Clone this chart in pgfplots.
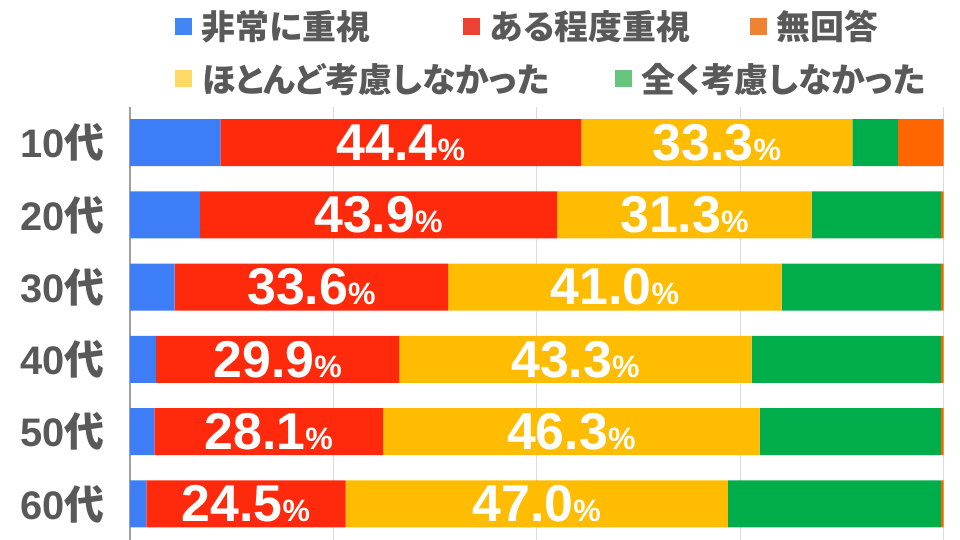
\documentclass[border=0pt]{standalone}
\usepackage{pgfplots}
\usepackage{pgfplotstable}
\pgfplotsset{compat=1.18}
\usepackage{fontspec}
\setmainfont{Liberation Sans}
\newfontfamily\jp{Noto Sans CJK JP}
\newfontfamily\jpp{Noto Sans CJK JP}[RawFeature=+palt]
\definecolor{cBlue}{HTML}{3D7EF7}
\definecolor{cRed}{HTML}{FF290B}
\definecolor{cYellow}{HTML}{FFBC00}
\definecolor{cGreen}{HTML}{00AD4B}
\definecolor{cOrange}{HTML}{FF6600}
\definecolor{lBlue}{HTML}{4285F4}
\definecolor{lRed}{HTML}{EA4335}
\definecolor{lOrange}{HTML}{EE8431}
\definecolor{lYellow}{HTML}{FFD966}
\definecolor{lGreen}{HTML}{66C57A}
\definecolor{txt}{HTML}{595959}
\definecolor{gridc}{HTML}{DADADA}
\definecolor{axisg}{HTML}{A0A0A0}
\pgfplotstableread{
idx blue red yellow green orange
0 11.1 44.4 33.3 5.6 5.6
1 8.6 43.9 31.3 15.9 0.3
2 5.5 33.6 41.0 19.6 0.3
3 3.2 29.9 43.3 23.3 0.3
4 3.0 28.1 46.3 22.3 0.3
5 2.0 24.5 47.0 26.2 0.3
}\data
\newcommand{\key}[1]{{\color{#1}\rule[5bp]{17bp}{17bp}}\hspace{10bp}}
\pgfplotsset{
  common/.style={at={(130bp,0bp)}, anchor=south west, scale only axis,
    width=813.5bp, height=433.5bp},
  legrow/.style={common, hide axis, xmin=0, xmax=1, ymin=0, ymax=1,
    legend columns=-1,
    legend image code/.code={},
    legend style={at={(0.0553,#1)}, anchor=west, draw=none, fill=none,
      inner sep=0pt, outer sep=0pt,
      font=\fontsize{34}{34}\selectfont\jpp\bfseries, text=txt,
      nodes={inner sep=0pt},
      /tikz/every odd column/.style={column sep=0bp},
      /tikz/every even column/.style={column sep=0bp}}},
  lab/.style={nodes near coords={\fontsize{52}{52}\selectfont\pgfplotspointmeta{\fontsize{31}{31}\selectfont\%}},
    point meta=explicit symbolic,
    every node near coord/.append style={text=white, font=\bfseries, inner sep=0pt}},
}
\begin{document}
\begin{tikzpicture}
\begin{axis}[common,
  xbar stacked, bar width=47bp,
  xmin=0, xmax=100, ymin=-0.5, ymax=5.5, y dir=reverse,
  axis line style={draw=none},
  xtick={25,50,75,100}, xticklabels={}, xmajorgrids,
  grid style={gridc, line width=1bp},
  extra x ticks={0}, extra x tick labels={},
  extra x tick style={grid style={axisg, line width=1.3bp}},
  ytick={0,...,5},
  yticklabels={10{\jp 代},20{\jp 代},30{\jp 代},40{\jp 代},50{\jp 代},60{\jp 代}},
  major tick length=0pt,
  yticklabel style={font=\fontsize{40}{40}\selectfont\bfseries, text=txt, inner sep=0pt, xshift=-25bp},
]
\addplot[fill=cBlue, draw=none] table[x=blue, y=idx]{\data};
\addplot[fill=cRed, draw=none, lab] table[x=red, y=idx, meta=red]{\data};
\addplot[fill=cYellow, draw=none, lab] table[x=yellow, y=idx, meta=yellow]{\data};
\addplot[fill=cGreen, draw=none] table[x=green, y=idx]{\data};
\addplot[fill=cOrange, draw=none] table[x=orange, y=idx]{\data};
\end{axis}
\begin{axis}[legrow=1.1857]
\addlegendimage{fill=lBlue}
\addlegendentry{\makebox[288bp][l]{\key{lBlue}非常に重視}}
\addlegendimage{fill=lRed}
\addlegendentry{\makebox[287bp][l]{\key{lRed}ある程度重視}}
\addlegendimage{fill=lOrange}
\addlegendentry{\key{lOrange}無回答}
\end{axis}
\begin{axis}[legrow=1.0646]
\addlegendimage{fill=lYellow}
\addlegendentry{\makebox[440bp][l]{\key{lYellow}ほとんど考慮しなかった}}
\addlegendimage{fill=lGreen}
\addlegendentry{\key{lGreen}全く考慮しなかった}
\end{axis}
\pgfresetboundingbox
\path[use as bounding box] (0,0) rectangle (960bp,540bp);
\end{tikzpicture}
\end{document}
